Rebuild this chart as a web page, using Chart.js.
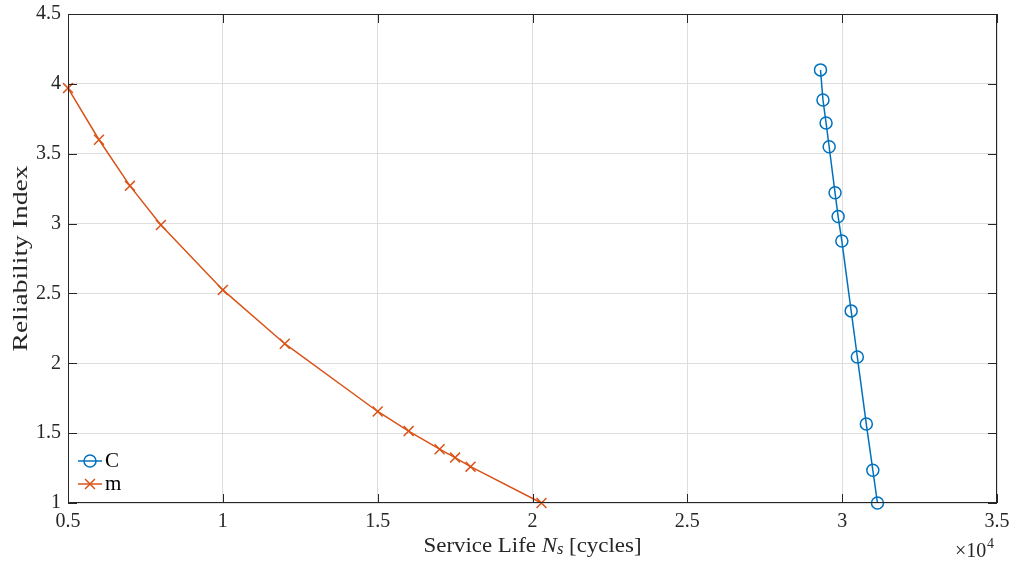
<!DOCTYPE html>
<html>
<head>
<meta charset="utf-8">
<script src="https://cdn.jsdelivr.net/npm/chart.js@4"></script>
<style>
  html, body { margin: 0; padding: 0; background: #fff; }
  #wrap { width: 1012px; height: 564px; position: relative; }
</style>
</head>
<body>
<div id="wrap"><canvas id="rel-chart"></canvas></div>
<script>
// service life [cycles] vs reliability index
const cLife = [29300, 29380, 29480, 29580, 29770, 29870, 29990, 30290, 30490, 30780, 30990, 31140];
const cBeta = [4.10, 3.885, 3.72, 3.55, 3.22, 3.05, 2.875, 2.375, 2.045, 1.565, 1.235, 1.0];
const mLife = [5000, 6000, 7000, 8000, 10000, 12000, 15000, 16000, 17000, 17500, 18000, 20290];
const mBeta = [3.97, 3.60, 3.27, 2.99, 2.525, 2.14, 1.655, 1.515, 1.385, 1.325, 1.26, 1.0];
const seriesNames = ['C', 'm'];
const xTicks = [5000, 10000, 15000, 20000, 25000, 30000, 35000];
const yTicks = [1, 1.5, 2, 2.5, 3, 3.5, 4, 4.5];

const BLUE = '#0072BD';
const ORANGE = '#D95319';
const SERIF = '"Liberation Serif", "DejaVu Serif", serif';

const toPts = (xs, ys) => xs.map((x, i) => ({ x: x, y: ys[i] }));

// draw runs of text stretched to a target width (the original uses a wider LaTeX font)
function drawRuns(ctx, runs, cx, cy, target) {
  let total = 0;
  runs.forEach(r => { ctx.font = r.font; r.w = ctx.measureText(r.text).width; total += r.w; });
  const k = target / total;
  ctx.save();
  ctx.translate(cx - target / 2, cy);
  ctx.scale(k, 1);
  ctx.textAlign = 'left';
  ctx.textBaseline = 'middle';
  let x = 0;
  runs.forEach(r => {
    ctx.font = r.font;
    ctx.fillText(r.text, x, r.dy || 0);
    x += r.w;
  });
  ctx.restore();
}

// matlab-ish box, inner ticks, labels and legend
const matlabBox = {
  id: 'matlabBox',
  afterDraw(chart) {
    const { ctx, chartArea: a, scales } = chart;
    ctx.save();
    ctx.strokeStyle = '#262626';
    ctx.lineWidth = 1;
    ctx.strokeRect(a.left + 0.5, a.top + 0.5, a.right - a.left - 1, a.bottom - a.top - 1);
    ctx.beginPath();
    xTicks.forEach(v => {
      const px = Math.round(scales.x.getPixelForValue(v)) + 0.5;
      ctx.moveTo(px, a.bottom); ctx.lineTo(px, a.bottom - 9);
      ctx.moveTo(px, a.top); ctx.lineTo(px, a.top + 9);
    });
    yTicks.forEach(v => {
      const py = Math.round(scales.y.getPixelForValue(v)) + 0.5;
      ctx.moveTo(a.left, py); ctx.lineTo(a.left + 9, py);
      ctx.moveTo(a.right, py); ctx.lineTo(a.right - 9, py);
    });
    ctx.stroke();

    // axis titles
    ctx.fillStyle = '#262626';
    drawRuns(ctx, [
      { text: 'Service Life ', font: '22px ' + SERIF },
      { text: 'N', font: 'italic 22px ' + SERIF },
      { text: 's', font: 'italic 16px ' + SERIF, dy: 4 },
      { text: ' [cycles]', font: '22px ' + SERIF }
    ], (a.left + a.right) / 2, 546, 218);

    ctx.save();
    ctx.translate(21, (a.top + a.bottom) / 2);
    ctx.rotate(-Math.PI / 2);
    drawRuns(ctx, [{ text: 'Reliability Index', font: '22px ' + SERIF }], 0, 0, 186);
    ctx.restore();

    // exponent
    ctx.textAlign = 'left';
    ctx.textBaseline = 'middle';
    ctx.font = '20px ' + SERIF;
    ctx.fillText('\u00d710', 955, 552);
    ctx.font = '14px ' + SERIF;
    ctx.fillText('4', 987, 544);

    // legend
    const items = [
      { name: seriesNames[0], color: BLUE, style: 'circle', r: 6, y: 461 },
      { name: seriesNames[1], color: ORANGE, style: 'crossRot', r: 7, y: 484 }
    ];
    items.forEach(it => {
      ctx.strokeStyle = it.color;
      ctx.fillStyle = 'rgba(0,0,0,0)';
      ctx.lineWidth = 1.5;
      ctx.beginPath();
      ctx.moveTo(78, it.y); ctx.lineTo(102, it.y);
      ctx.stroke();
      Chart.helpers.drawPoint(ctx, { pointStyle: it.style, radius: it.r, borderWidth: 1.5 }, 90, it.y);
      ctx.fillStyle = '#000';
      ctx.font = '21px ' + SERIF;
      ctx.fillText(it.name, 105, it.y);
    });
    ctx.restore();
  }
};

new Chart(document.getElementById('rel-chart'), {
  type: 'scatter',
  data: {
    datasets: [
      {
        label: seriesNames[0],
        data: toPts(cLife, cBeta),
        showLine: true,
        borderColor: BLUE,
        backgroundColor: 'rgba(0,0,0,0)',
        borderWidth: 1.5,
        pointStyle: 'circle',
        pointRadius: 6,
        pointBorderWidth: 1.5,
        clip: false
      },
      {
        label: seriesNames[1],
        data: toPts(mLife, mBeta),
        showLine: true,
        borderColor: ORANGE,
        backgroundColor: 'rgba(0,0,0,0)',
        borderWidth: 1.5,
        pointStyle: 'crossRot',
        pointRadius: 7,
        pointBorderWidth: 1.5,
        clip: false
      }
    ]
  },
  options: {
    responsive: true,
    maintainAspectRatio: false,
    animation: false,
    layout: { padding: { left: 0, right: 15, top: 14, bottom: 0 } },
    plugins: { legend: { display: false }, tooltip: { enabled: false } },
    scales: {
      x: {
        type: 'linear',
        min: 5000,
        max: 35000,
        afterBuildTicks: s => { s.ticks = xTicks.map(v => ({ value: v })); },
        afterFit: s => { s.height = 61; s.paddingLeft = 0; s.paddingRight = 0; },
        ticks: {
          color: '#262626',
          font: { family: SERIF, size: 20 },
          padding: 7,
          maxRotation: 0,
          callback: v => String(v / 1e4)
        },
        grid: { color: '#dedede', drawTicks: false },
        border: { display: false }
      },
      y: {
        type: 'linear',
        min: 1,
        max: 4.5,
        afterBuildTicks: s => { s.ticks = yTicks.map(v => ({ value: v })); },
        afterFit: s => { s.width = 68; s.paddingTop = 0; s.paddingBottom = 0; },
        ticks: {
          color: '#262626',
          font: { family: SERIF, size: 20 },
          padding: 7,
          callback: v => String(v)
        },
        grid: { color: '#dedede', drawTicks: false },
        border: { display: false }
      }
    }
  },
  plugins: [matlabBox]
});
</script>
</body>
</html>
